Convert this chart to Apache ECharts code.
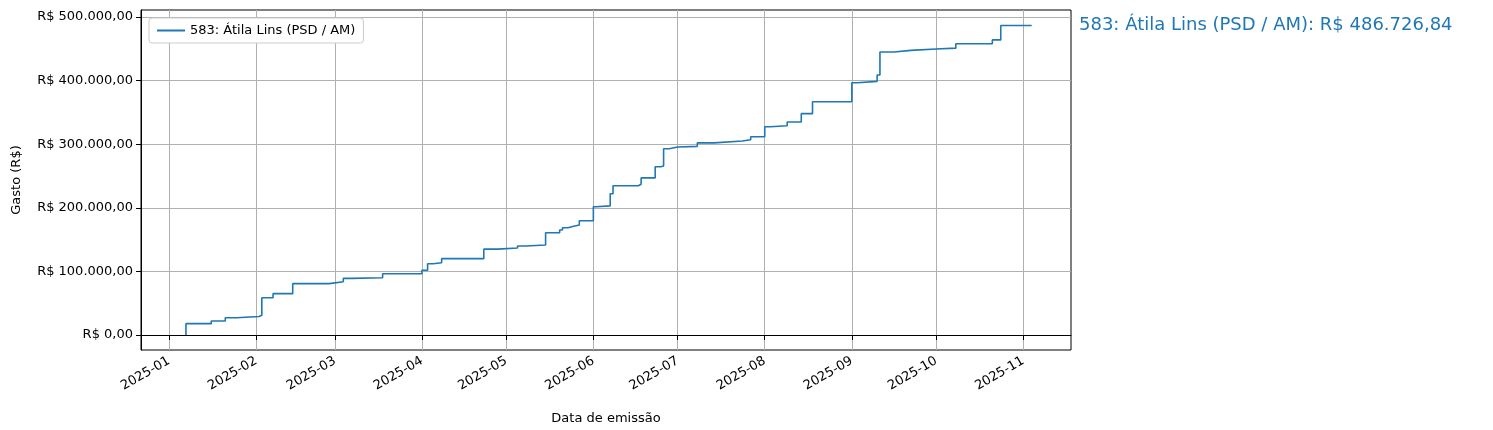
<!DOCTYPE html>
<html>
<head>
<meta charset="utf-8">
<script src="https://cdn.jsdelivr.net/npm/echarts@6/dist/echarts.min.js"></script>
<style>html,body{margin:0;padding:0;background:#fff}#chart{width:1493px;height:430px}</style>
</head>
<body>
<div id="chart"></div>
<script>
// data points: date of each jump and cumulative spend after it
var dates = ['2025-01-07','2025-01-07','2025-01-16','2025-01-21','2025-01-25','2025-02-02','2025-02-03','2025-02-07','2025-02-14',
  '2025-02-27','2025-03-04','2025-03-07','2025-03-18','2025-04-01','2025-04-03','2025-04-05','2025-04-08','2025-04-23',
  '2025-04-28','2025-05-05','2025-05-08','2025-05-15','2025-05-20','2025-05-21','2025-05-23','2025-05-25','2025-05-27',
  '2025-06-01','2025-06-02','2025-06-07','2025-06-08','2025-06-17','2025-06-18','2025-06-23','2025-06-25','2025-06-26',
  '2025-06-28','2025-07-01','2025-07-08','2025-07-14','2025-07-24','2025-07-27','2025-08-01','2025-08-03','2025-08-09',
  '2025-08-14','2025-08-18','2025-09-01','2025-09-03','2025-09-10','2025-09-11','2025-09-16','2025-09-22','2025-10-01',
  '2025-10-08','2025-10-21','2025-10-24','2025-11-04'];
var gasto = [0,17800,22000,27000,29000,31000,58600,65000,80700,
  83800,89000,90000,96400,101700,112000,113700,120000,135000,
  136800,140000,141500,160800,165000,168700,171000,173000,179700,
  201700,203000,222000,234700,237000,247000,264600,265700,292900,
  295500,296600,302000,305000,307000,311700,327500,329000,335000,
  348000,366700,396600,398800,408700,444900,447500,449600,451000,
  458000,464000,486726.84,486726.84];
var monthTicks = ['2025-01-01','2025-02-01','2025-03-01','2025-04-01','2025-05-01','2025-06-01',
  '2025-07-01','2025-08-01','2025-09-01','2025-10-01','2025-11-01'];
var yTicks = [0,100000,200000,300000,400000,500000];
var seriesName = '583: Átila Lins (PSD / AM)';

function brl(v){
  return 'R$ ' + v.toLocaleString('pt-BR',{minimumFractionDigits:2,maximumFractionDigits:2});
}
function ts(d){ return new Date(d + 'T00:00:00Z').getTime(); }

var chart = echarts.init(document.getElementById('chart'));
var font = 'DejaVu Sans';
var option = {
  animation:false,
  textStyle:{fontFamily:font},
  grid:{left:141,right:422,top:10,bottom:80,show:true,borderColor:'#000',borderWidth:1},
  legend:{left:149,top:18,padding:[6,8],itemGap:6,itemWidth:28,itemHeight:2,
    borderColor:'#ccc',borderWidth:1,borderRadius:3,backgroundColor:'#fff',
    textStyle:{fontSize:13,color:'#000',fontFamily:font},data:[{name:seriesName,icon:'rect'}]},
  xAxis:{type:'value',min:ts('2024-12-22'),max:ts('2025-11-18'),
    name:'Data de emissão',nameLocation:'middle',nameGap:62,nameTextStyle:{fontSize:13,color:'#000'},
    axisLine:{lineStyle:{color:'#000'}},
    axisTick:{show:true,length:5,lineStyle:{color:'#000'},customValues:monthTicks.map(ts)},
    axisLabel:{rotate:30,fontSize:13,color:'#000',margin:10,customValues:monthTicks.map(ts),
      formatter:function(v){var d=new Date(v);return d.getUTCFullYear()+'-'+String(d.getUTCMonth()+1).padStart(2,'0');}},
    splitLine:{show:true,lineStyle:{color:'#b0b0b0',width:1}}},
  yAxis:{type:'value',min:-23600,max:511000,
    name:'Gasto (R$)',nameLocation:'middle',nameGap:118,nameTextStyle:{fontSize:13,color:'#000'},
    axisLine:{show:true,lineStyle:{color:'#000'}},
    axisTick:{show:true,length:5,lineStyle:{color:'#000'},customValues:yTicks},
    axisLabel:{fontSize:13,color:'#000',customValues:yTicks,formatter:brl},
    splitLine:{show:true,lineStyle:{color:'#b0b0b0',width:1}}},
  series:[{name:seriesName,type:'line',step:'end',showSymbol:false,symbol:'none',
    lineStyle:{color:'#1f77b4',width:1.6},itemStyle:{color:'#1f77b4'},
    data:dates.map(function(d,i){return [ts(d),gasto[i]];})}],
  graphic:[{type:'text',left:1079,top:16,style:{text:seriesName+': '+brl(gasto[gasto.length-1]),
    fill:'#1f77b4',fontSize:18,fontFamily:font}}]
};
chart.setOption(option);
</script>
</body>
</html>
